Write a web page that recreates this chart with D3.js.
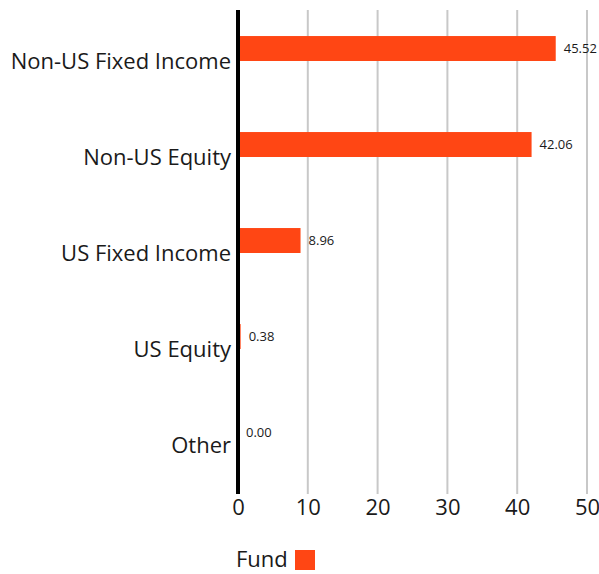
<!DOCTYPE html>
<meta charset="utf-8">
<head>
  <title>Fund allocation</title>
  <script src="https://cdn.jsdelivr.net/npm/d3@7"></script>
  <style>
    body { margin: 0; background: #fff; }
    .cat { font-family: "Open Sans", sans-serif; font-size: 22px; fill: #1a1a1a; }
    .tick text { font-family: "Open Sans", sans-serif; font-size: 22px; fill: #1a1a1a; }
    .val { font-family: "Open Sans", sans-serif; font-size: 13px; fill: #1a1a1a; }
  </style>
</head>
<body>
<div id="chart"></div>
<script>
// data
var categories = ["Non-US Fixed Income", "Non-US Equity", "US Fixed Income", "US Equity", "Other"];
var fundValues = [45.52, 42.06, 8.96, 0.38, 0.00];
var xTicks = [0, 10, 20, 30, 40, 50];
var seriesName = "Fund";
var barColor = "#ff4614";

var width = 599, height = 574;
var margin = {top: 10, right: 12, bottom: 80, left: 238};

var svg = d3.select("#chart").append("svg")
    .attr("width", width)
    .attr("height", height);

var x = d3.scaleLinear()
    .domain([0, 50])
    .range([margin.left, width - margin.right]);

var y = d3.scaleBand()
    .domain(categories)
    .range([margin.top + 3, height - margin.bottom - 1]);

// gridlines
svg.append("g")
  .selectAll("line")
  .data(xTicks.slice(1))
  .enter().append("line")
    .attr("x1", function(d) { return x(d); })
    .attr("x2", function(d) { return x(d); })
    .attr("y1", margin.top)
    .attr("y2", height - margin.bottom)
    .attr("stroke", "#c8c8c8")
    .attr("stroke-width", 2);

// bars sit in upper half of each band
var barH = y.bandwidth() * 0.26;
svg.append("g")
  .selectAll("rect")
  .data(categories)
  .enter().append("rect")
    .attr("x", x(0))
    .attr("y", function(d) { return y(d) + y.bandwidth() / 2 - barH; })
    .attr("width", function(d, i) { return x(fundValues[i]) - x(0); })
    .attr("height", barH)
    .attr("fill", barColor);

// value labels
svg.append("g")
  .selectAll("text")
  .data(categories)
  .enter().append("text")
    .attr("class", "val")
    .attr("x", function(d, i) { return x(fundValues[i]) + 8; })
    .attr("y", function(d) { return y(d) + y.bandwidth() / 2 - barH / 2; })
    .attr("dy", "0.35em")
    .text(function(d, i) { return fundValues[i].toFixed(2); });

// category labels
svg.append("g")
  .selectAll("text")
  .data(categories)
  .enter().append("text")
    .attr("class", "cat")
    .attr("x", x(0) - 7)
    .attr("y", function(d) { return y(d) + y.bandwidth() / 2; })
    .attr("dy", "0.35em")
    .attr("text-anchor", "end")
    .text(function(d) { return d; });

// x axis
var xAxis = d3.axisBottom(x).tickValues(xTicks).tickSize(0).tickPadding(5);
svg.append("g")
    .attr("transform", "translate(0," + (height - margin.bottom) + ")")
    .call(xAxis)
    .call(function(g) { g.select(".domain").remove(); });

// zero line
svg.append("line")
    .attr("x1", x(0)).attr("x2", x(0))
    .attr("y1", margin.top)
    .attr("y2", height - margin.bottom)
    .attr("stroke", "#000")
    .attr("stroke-width", 4);

// legend
var lg = svg.append("g").attr("transform", "translate(236," + 559 + ")");
lg.append("text")
    .attr("class", "cat")
    .attr("x", 0).attr("y", 0)
    .attr("dy", "0.35em")
    .text(seriesName);
lg.append("rect")
    .attr("x", 59).attr("y", -9)
    .attr("width", 20).attr("height", 20)
    .attr("fill", barColor);
</script>
</body>
